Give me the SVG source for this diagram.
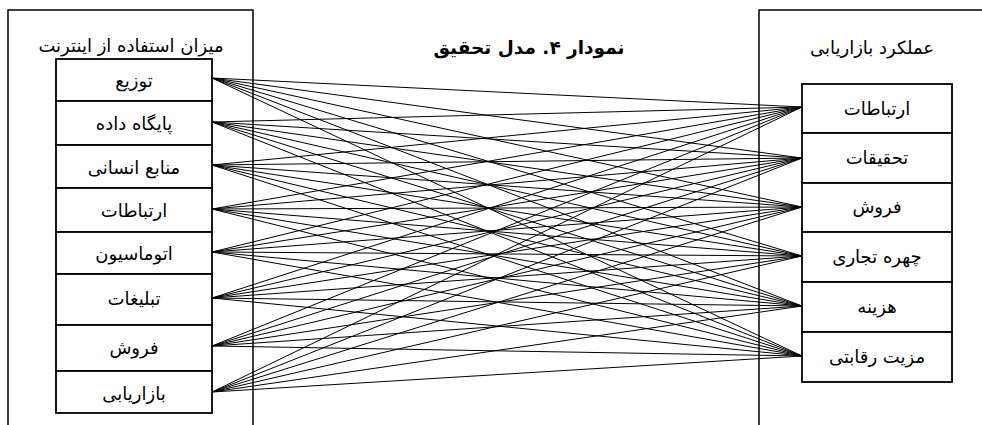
<svg xmlns="http://www.w3.org/2000/svg" width="982" height="425" viewBox="0 0 982 425">
<style>
.frame{fill:none;stroke:#000;stroke-width:1.5}
.box{fill:#fff;stroke:#000;stroke-width:1.8}
.lbl{font-family:"DejaVu Sans",sans-serif;font-size:18px;fill:#000;text-anchor:middle;dominant-baseline:central;direction:rtl}
.ttl{font-family:"DejaVu Sans",sans-serif;font-size:18.5px;font-weight:bold;fill:#000;text-anchor:middle;dominant-baseline:central;direction:rtl}
#connectors line{stroke:#000;stroke-width:1}
</style>
<rect width="982" height="425" fill="#fff"/>
<g id="frame-left"><path class="frame" d="M8,426 V10 H253 V426"/><text class="lbl" x="131" y="45">میزان استفاده از اینترنت</text></g>
<g id="frame-right"><path class="frame" d="M759,426 V10 H983"/><text class="lbl" x="872" y="47">عملکرد بازاریابی</text></g>
<g id="title"><text class="ttl" x="529" y="47">نمودار ۴. مدل تحقیق</text></g>
<g id="connectors">
<line x1="212" y1="78" x2="802" y2="107"/><line x1="212" y1="78" x2="802" y2="158"/><line x1="212" y1="78" x2="802" y2="207"/><line x1="212" y1="78" x2="802" y2="256"/><line x1="212" y1="78" x2="802" y2="306"/><line x1="212" y1="78" x2="802" y2="356"/>
<line x1="212" y1="122" x2="802" y2="107"/><line x1="212" y1="122" x2="802" y2="158"/><line x1="212" y1="122" x2="802" y2="207"/><line x1="212" y1="122" x2="802" y2="256"/><line x1="212" y1="122" x2="802" y2="306"/><line x1="212" y1="122" x2="802" y2="356"/>
<line x1="212" y1="165" x2="802" y2="107"/><line x1="212" y1="165" x2="802" y2="158"/><line x1="212" y1="165" x2="802" y2="207"/><line x1="212" y1="165" x2="802" y2="256"/><line x1="212" y1="165" x2="802" y2="306"/><line x1="212" y1="165" x2="802" y2="356"/>
<line x1="212" y1="209" x2="802" y2="107"/><line x1="212" y1="209" x2="802" y2="158"/><line x1="212" y1="209" x2="802" y2="207"/><line x1="212" y1="209" x2="802" y2="256"/><line x1="212" y1="209" x2="802" y2="306"/><line x1="212" y1="209" x2="802" y2="356"/>
<line x1="212" y1="252" x2="802" y2="107"/><line x1="212" y1="252" x2="802" y2="158"/><line x1="212" y1="252" x2="802" y2="207"/><line x1="212" y1="252" x2="802" y2="256"/><line x1="212" y1="252" x2="802" y2="306"/><line x1="212" y1="252" x2="802" y2="356"/>
<line x1="212" y1="298" x2="802" y2="107"/><line x1="212" y1="298" x2="802" y2="158"/><line x1="212" y1="298" x2="802" y2="207"/><line x1="212" y1="298" x2="802" y2="256"/><line x1="212" y1="298" x2="802" y2="306"/><line x1="212" y1="298" x2="802" y2="356"/>
<line x1="212" y1="346" x2="802" y2="107"/><line x1="212" y1="346" x2="802" y2="158"/><line x1="212" y1="346" x2="802" y2="207"/><line x1="212" y1="346" x2="802" y2="256"/><line x1="212" y1="346" x2="802" y2="306"/><line x1="212" y1="346" x2="802" y2="356"/>
<line x1="212" y1="392" x2="802" y2="107"/><line x1="212" y1="392" x2="802" y2="158"/><line x1="212" y1="392" x2="802" y2="207"/><line x1="212" y1="392" x2="802" y2="256"/><line x1="212" y1="392" x2="802" y2="306"/><line x1="212" y1="392" x2="802" y2="356"/>
</g>
<g id="l1"><rect class="box" x="56" y="59" width="156" height="42"/><text class="lbl" x="134" y="80">توزیع</text></g>
<g id="l2"><rect class="box" x="56" y="101" width="156" height="44"/><text class="lbl" x="134" y="123">پایگاه داده</text></g>
<g id="l3"><rect class="box" x="56" y="145" width="156" height="43"/><text class="lbl" x="134" y="167">منابع انسانی</text></g>
<g id="l4"><rect class="box" x="56" y="188" width="156" height="44"/><text class="lbl" x="134" y="210">ارتباطات</text></g>
<g id="l5"><rect class="box" x="56" y="232" width="156" height="42"/><text class="lbl" x="134" y="253">اتوماسیون</text></g>
<g id="l6"><rect class="box" x="56" y="274" width="156" height="51"/><text class="lbl" x="134" y="298">تبلیغات</text></g>
<g id="l7"><rect class="box" x="56" y="325" width="156" height="46"/><text class="lbl" x="134" y="347">فروش</text></g>
<g id="l8"><rect class="box" x="56" y="371" width="156" height="42"/><text class="lbl" x="134" y="393">بازاریابی</text></g>
<g id="r1"><rect class="box" x="802" y="84" width="150" height="49"/><text class="lbl" x="877" y="108">ارتباطات</text></g>
<g id="r2"><rect class="box" x="802" y="133" width="150" height="50"/><text class="lbl" x="877" y="157">تحقیقات</text></g>
<g id="r3"><rect class="box" x="802" y="183" width="150" height="49"/><text class="lbl" x="877" y="206">فروش</text></g>
<g id="r4"><rect class="box" x="802" y="232" width="150" height="50"/><text class="lbl" x="877" y="256">چهره تجاری</text></g>
<g id="r5"><rect class="box" x="802" y="282" width="150" height="50"/><text class="lbl" x="877" y="306">هزینه</text></g>
<g id="r6"><rect class="box" x="802" y="332" width="150" height="50"/><text class="lbl" x="877" y="356">مزیت رقابتی</text></g>
</svg>
